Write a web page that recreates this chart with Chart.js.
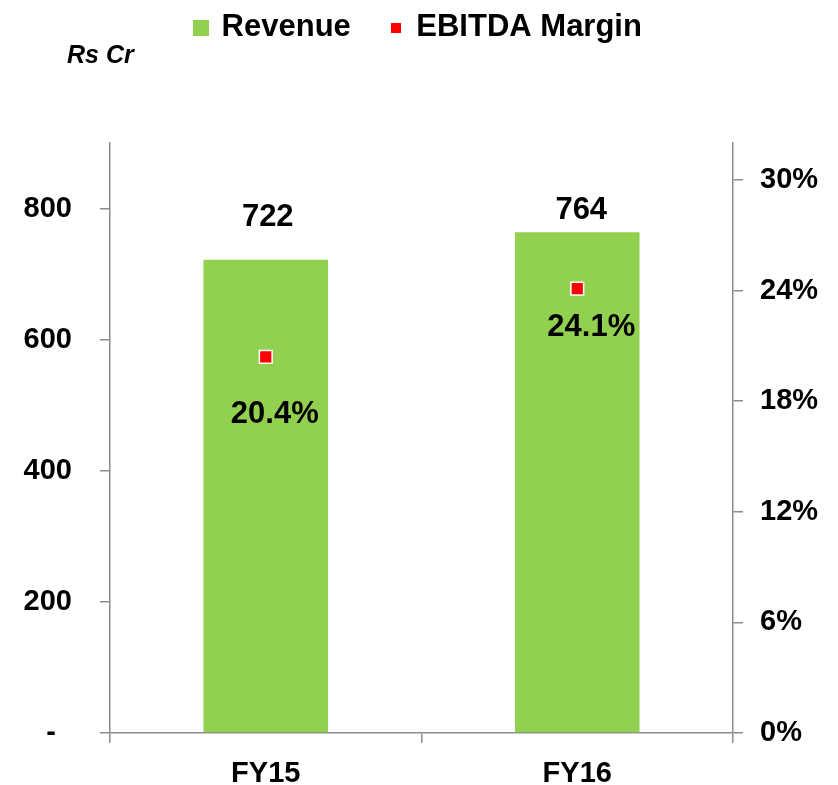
<!DOCTYPE html>
<html>
<head>
<meta charset="utf-8">
<script src="https://cdn.jsdelivr.net/npm/chart.js@4.4.0/dist/chart.umd.min.js"></script>
<style>
  html, body { margin: 0; padding: 0; background: #fff; }
  #wrap { width: 838px; height: 785px; }
</style>
</head>
<body>
<div id="wrap"><canvas id="myChart" width="838" height="785"></canvas></div>
<script>
'use strict';

var categories = ['FY15', 'FY16'];
var revenue = [722, 764];
var ebitdaMargin = [0.204, 0.241];
var leftTicks = [0, 200, 400, 600, 800];
var rightTicks = [0, 0.06, 0.12, 0.18, 0.24, 0.30];

var FONT = "'Liberation Sans', Arial, sans-serif";
var AXIS_GREY = '#8c8c8c';
var GREEN = '#92D050';
var RED = '#FF0000';

// little squares for the legend (different sizes like the original)
function square(size, color) {
  var c = document.createElement('canvas');
  c.width = size; c.height = size;
  var g = c.getContext('2d');
  g.fillStyle = color;
  g.fillRect(0, 0, size, size);
  return c;
}
var greenBox = square(16, GREEN);
var redBox = square(10, RED);

// leave room under the legend for the "Rs Cr" unit line
var legendGap = {
  id: 'legendGap',
  beforeInit: function (chart) {
    var orig = chart.legend.fit;
    chart.legend.fit = function () {
      orig.call(this);
      this.height += 90;
    };
  }
};

// value labels + "Rs Cr" unit text
var labelPlugin = {
  id: 'labelPlugin',
  afterDatasetsDraw: function (chart) {
    var ctx = chart.ctx;
    ctx.save();
    ctx.fillStyle = '#000';
    ctx.textAlign = 'center';
    ctx.textBaseline = 'middle';
    ctx.font = 'bold 31px ' + FONT;
    var barOff = [[2, -42], [4, -22]];
    chart.getDatasetMeta(1).data.forEach(function (bar, i) {
      ctx.fillText(String(revenue[i]), bar.x + barOff[i][0], bar.y + barOff[i][1]);
    });
    var ptOff = [[9, 58], [14, 39]];
    chart.getDatasetMeta(0).data.forEach(function (pt, i) {
      ctx.fillText((ebitdaMargin[i] * 100).toFixed(1) + '%', pt.x + ptOff[i][0], pt.y + ptOff[i][1]);
    });
    ctx.textAlign = 'left';
    ctx.font = 'italic bold 25px ' + FONT;
    ctx.fillText('Rs Cr', 67, 56);
    ctx.restore();
  }
};

var ctx = document.getElementById('myChart');
var myChart = new Chart(ctx, {
  data: {
    labels: categories,
    datasets: [
      {
        type: 'line',
        label: 'EBITDA Margin',
        data: ebitdaMargin,
        yAxisID: 'y1',
        showLine: false,
        pointStyle: 'rect',
        pointRadius: 9,
        pointHoverRadius: 9,
        backgroundColor: RED,
        borderColor: '#ffffff',
        borderWidth: 1.5,
        order: 0
      },
      {
        type: 'bar',
        label: 'Revenue',
        data: revenue,
        yAxisID: 'y',
        backgroundColor: GREEN,
        borderWidth: 0,
        categoryPercentage: 1,
        barPercentage: 0.4,
        order: 1
      }
    ]
  },
  options: {
    responsive: false,
    animation: false,
    layout: { padding: { top: -28, left: 0, right: 0, bottom: 0 } },
    plugins: {
      tooltip: { enabled: false },
      legend: {
        position: 'top',
        labels: {
          usePointStyle: true,
          boxWidth: 10,
          boxHeight: 16,
          padding: 40,
          color: '#000',
          font: { family: FONT, size: 31, weight: 'bold' },
          generateLabels: function () {
            return [
              { text: 'Revenue', pointStyle: greenBox, fillStyle: GREEN, lineWidth: 0, hidden: false, datasetIndex: 1, fontColor: '#000' },
              { text: 'EBITDA Margin', pointStyle: redBox, fillStyle: RED, lineWidth: 0, hidden: false, datasetIndex: 0, fontColor: '#000' }
            ];
          }
        }
      }
    },
    scales: {
      x: {
        type: 'category',
        offset: true,
        grid: { offset: true, drawOnChartArea: false, drawTicks: true, tickLength: 10, color: AXIS_GREY, lineWidth: 1.5 },
        border: { color: AXIS_GREY, width: 1.5 },
        ticks: { color: '#000', padding: 14, font: { family: FONT, size: 29, weight: 'bold' } },
        afterFit: function (s) { s.height = 52; }
      },
      y: {
        position: 'left',
        min: 0,
        max: 900,
        grid: { drawOnChartArea: false, drawTicks: true, tickLength: 10, color: AXIS_GREY, lineWidth: 1.5 },
        border: { color: AXIS_GREY, width: 1.5 },
        ticks: {
          color: '#000',
          padding: 28,
          font: { family: FONT, size: 29, weight: 'bold' },
          callback: function (v) { return v === 0 ? '-  ' : String(v); }
        },
        afterBuildTicks: function (s) {
          s.ticks = leftTicks.map(function (v) { return { value: v }; });
        },
        afterFit: function (s) { s.width = 110; }
      },
      y1: {
        position: 'right',
        min: 0,
        max: 0.32,
        grid: { drawOnChartArea: false, drawTicks: true, tickLength: 10, color: AXIS_GREY, lineWidth: 1.5 },
        border: { color: AXIS_GREY, width: 1.5 },
        ticks: {
          color: '#000',
          padding: 17,
          font: { family: FONT, size: 29, weight: 'bold' },
          callback: function (v) { return Math.round(v * 100) + '%'; }
        },
        afterBuildTicks: function (s) {
          s.ticks = rightTicks.map(function (v) { return { value: v }; });
        },
        afterFit: function (s) { s.width = 105; }
      }
    }
  },
  plugins: [legendGap, labelPlugin]
});
</script>
</body>
</html>
